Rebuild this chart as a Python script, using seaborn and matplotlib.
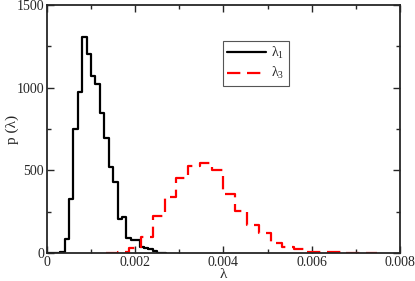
import numpy as np
import pandas as pd
import matplotlib
matplotlib.use("Agg")
import matplotlib.pyplot as plt
import matplotlib.ticker as mticker
import seaborn as sns

# ── Data ─────────────────────────────────────────────────────────────────────
# lambda_1 : bins of width 1e-4 starting at 0
l1_heights = [0, 0, 0, 8, 85, 325, 748, 972, 1305, 1204, 1071, 1022, 845,
              694, 522, 431, 204, 220, 89, 80, 78, 35, 30, 25, 12, 3, 0]
# lambda_3 : bins of width 0.008/30 starting at 5 * 0.008/30
l3_heights = [2, 4, 28, 99, 224, 337, 452, 526, 546, 502, 355, 254, 167,
              119, 59, 34, 22, 9, 5, 4, 3, 2, 0]

l1_edges = np.arange(len(l1_heights) + 1) * 1e-4
l3_edges = (5 + np.arange(len(l3_heights) + 1)) * 0.008 / 30

df1 = pd.DataFrame({"x": (l1_edges[:-1] + l1_edges[1:]) / 2, "w": l1_heights})
df3 = pd.DataFrame({"x": (l3_edges[:-1] + l3_edges[1:]) / 2, "w": l3_heights})

# ── Style ────────────────────────────────────────────────────────────────────
sns.set_style("ticks")
plt.rcParams.update({
    "font.family": ["Liberation Serif", "DejaVu Serif"],
    "mathtext.fontset": "custom",
    "mathtext.rm": "Liberation Serif",
    "mathtext.it": "Liberation Serif:italic",
    "font.size": 10,
    "axes.linewidth": 1.3,
    "xtick.direction": "in",
    "ytick.direction": "in",
    "xtick.top": True,
    "ytick.right": True,
})

fig = plt.figure(figsize=(4.15, 2.81), dpi=100)
ax = fig.add_axes([0.113, 0.0996, 0.851, 0.8826])

sns.histplot(data=df1, x="x", weights="w", bins=list(l1_edges), element="step",
             fill=False, color="black", linewidth=1.6, ax=ax, label="λ$_1$")
sns.histplot(data=df3, x="x", weights="w", bins=list(l3_edges), element="step",
             fill=False, color="red", linewidth=1.6, linestyle=(0, (6, 3)),
             ax=ax, label="λ$_3$")

ax.set_xlim(0, 0.008)
ax.set_ylim(0, 1500)
ax.xaxis.set_major_locator(mticker.MultipleLocator(0.002))
ax.xaxis.set_minor_locator(mticker.MultipleLocator(0.001))
ax.yaxis.set_major_locator(mticker.MultipleLocator(500))
ax.yaxis.set_minor_locator(mticker.MultipleLocator(250))
ax.xaxis.set_major_formatter(mticker.FuncFormatter(
    lambda v, _: "0" if v == 0 else f"{v:.3f}"))
ax.tick_params(which="major", length=5, width=1, pad=2)
ax.tick_params(which="minor", length=3, width=1)
for s in ax.spines.values():
    s.set_visible(True)

ax.set_xlabel("λ", fontsize=11)
ax.set_ylabel("p (λ)", fontsize=11)
ax.xaxis.label.set_va("center")
ax.yaxis.label.set_va("center")
ax.xaxis.set_label_coords(0.5, -0.088)
ax.yaxis.set_label_coords(-0.099, 0.5)

leg = ax.legend(loc="upper left", bbox_to_anchor=(0.498, 0.855),
                borderaxespad=0, fancybox=False, framealpha=1,
                edgecolor="#555555", handlelength=2.8, handletextpad=0.4,
                borderpad=0.3, labelspacing=0.3, fontsize=10)
leg.get_frame().set_linewidth(0.8)

fig.savefig("out.png", dpi=100)
